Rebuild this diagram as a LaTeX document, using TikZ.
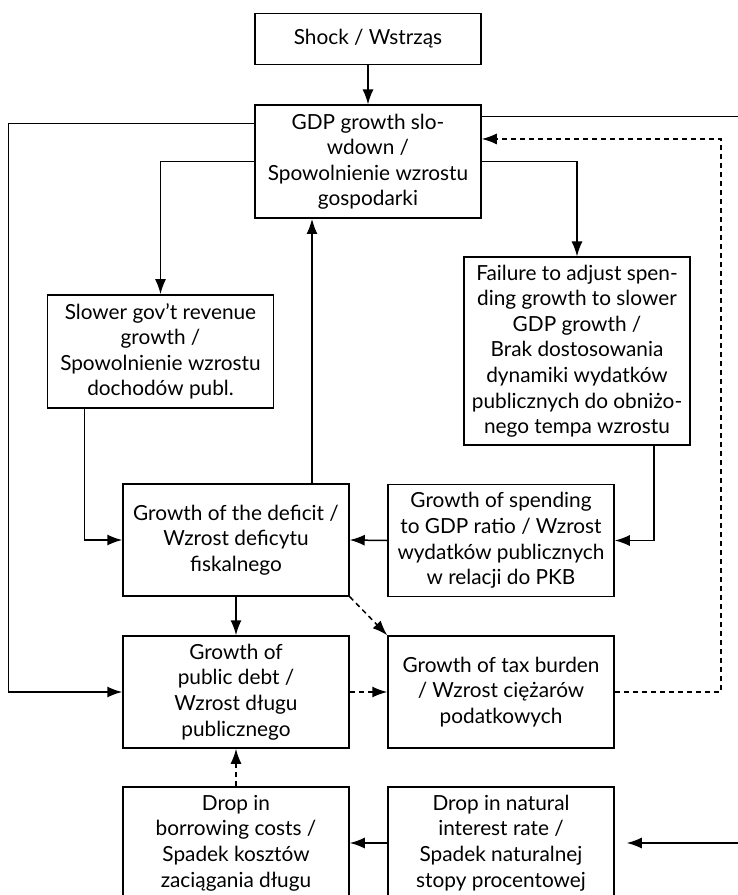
\documentclass[tikz,border=0pt]{standalone}
\usepackage{fontspec}
\setmainfont{Lato}
\usetikzlibrary{arrows.meta,calc}
\begin{document}
\begin{tikzpicture}[x=1pt,y=-1pt,
  box/.style={draw, line width=1.5pt, inner sep=0pt, align=center,
    font=\fontsize{20.8}{25.6}\selectfont},
  arr/.style={line width=1.5pt, -{Latex[length=15pt,width=11pt]}},
  darr/.style={arr, dash pattern=on 5pt off 4pt}]
\useasboundingbox (0,0) rectangle (738,895);
\node[box, minimum width=226pt, minimum height=51pt] (shock) at (368,38.8) {Shock / Wstrząs};
\node[box, minimum width=226pt, minimum height=113pt] (gdp) at (368,161.7) {GDP growth slo-\\wdown /\\Spowolnienie wzrostu\\gospodarki};
\node[box, minimum width=226pt, minimum height=113pt] (rev) at (160.5,351.4) {Slower gov’t revenue\\growth /\\Spowolnienie wzrostu\\dochodów publ.};
\node[box, minimum width=226pt, minimum height=188pt] (fail) at (577,351.2) {Failure to adjust spen-\\ding growth to slower\\GDP growth /\\Brak dostosowania\\dynamiki wydatków\\publicznych do obniżo-\\nego tempa wzrostu};
\node[box, minimum width=226pt, minimum height=112pt] (def) at (236,540) {Growth of the deficit /\\Wzrost deficytu\\fiskalnego};
\node[box, minimum width=226pt, minimum height=112pt] (spend) at (501,540.5) {Growth of spending\\to GDP ratio / Wzrost\\wydatków publicznych\\w relacji do PKB};
\node[box, minimum width=226pt, minimum height=112pt] (debt) at (236,692) {Growth of\\public debt /\\Wzrost długu\\publicznego};
\node[box, minimum width=226pt, minimum height=112pt] (tax) at (501,692) {Growth of tax burden\\/ Wzrost ciężarów\\podatkowych};
\node[box, minimum width=226pt, minimum height=112pt] (borrow) at (236,843) {Drop in\\borrowing costs /\\Spadek kosztów\\zaciągania długu};
\node[box, minimum width=226pt, minimum height=112pt] (nat) at (501,843) {Drop in natural\\interest rate /\\Spadek naturalnej\\stopy procentowej};
\coordinate (du) at ($(def.north)+(76,0)$);
% connectors
\draw[arr] (shock) -- (gdp);
\draw[arr] (gdp.west) -| (rev.north);
\draw[arr] (gdp.east) -| (fail.north);
\draw[arr] ($(gdp.north west)+(0,19)$) -- ++(-246,0) |- (debt.west);
\draw[arr, shorten >=12pt] ($(gdp.north east)+(0,12)$) -- ++(300,0) |- (nat.east);
\draw[darr] (tax.east) -- ++(106,0) |- ($(gdp.north east)+(0,34.5)$);
\draw[arr] ($(rev.south west)+(37.5,0)$) |- (def.west);
\draw[arr] ($(fail.south east)+(-37,0)$) |- (spend.east);
\draw[arr] (spend.west) -- (def.east);
\draw[arr] (du) -- (du |- gdp.south);
\draw[arr] (def.south) -- (debt.north);
\draw[darr] (def.south east) -- (tax.north west);
\draw[darr] (debt.east) -- (tax.west);
\draw[darr] (borrow.north) -- (debt.south);
\draw[arr] (nat.west) -- (borrow.east);
\end{tikzpicture}
\end{document}
